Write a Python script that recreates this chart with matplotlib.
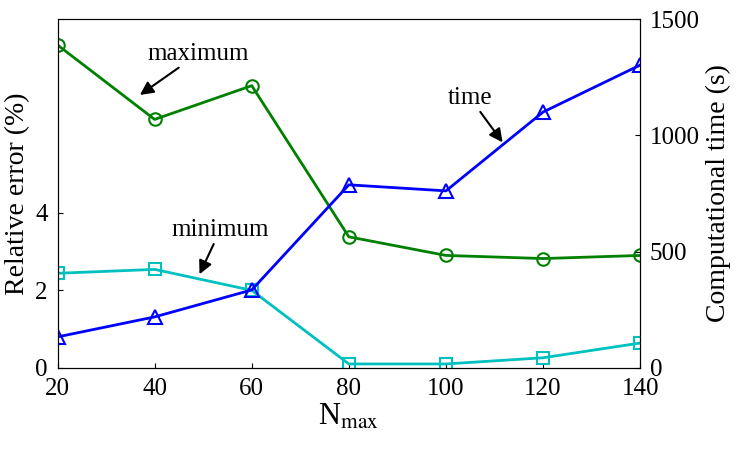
import matplotlib
matplotlib.use("Agg")
import matplotlib.pyplot as plt

plt.rcParams['font.family'] = ['Liberation Serif', 'DejaVu Serif']
plt.rcParams['mathtext.fontset'] = 'stix'

n_max = [20, 40, 60, 80, 100, 120, 140]
err_max = [8.33, 6.41, 7.28, 3.38, 2.90, 2.82, 2.90]
err_min = [2.44, 2.54, 2.00, 0.10, 0.10, 0.26, 0.64]
comp_time = [133, 219, 335, 787, 761, 1100, 1302]

fig, ax = plt.subplots(figsize=(7.47, 4.53), dpi=100)
fig.subplots_adjust(left=0.077, right=0.857, top=0.958, bottom=0.188)

ax.plot(n_max, err_max, color='green', lw=2, marker='o', ms=9, mfc='none', mew=1.5)
ax.plot(n_max, err_min, color='#00c0c0', lw=2, marker='s', ms=9, mfc='none', mew=1.5)
ax.set_xlim(20, 140)
ax.set_ylim(0, 9)
ax.set_yticks([0, 2, 4])
ax.set_xticks(n_max)
ax.set_xlabel(r'N$_{\rm max}$', fontsize=22, labelpad=2)
ax.set_ylabel('Relative error (%)', fontsize=20)
ax.tick_params(labelsize=18, direction='in')
ax.tick_params(axis='x', pad=7)
ax.tick_params(axis='y', pad=7)

ax2 = ax.twinx()
ax2.plot(n_max, comp_time, color='blue', lw=2, marker='^', ms=10, mfc='none', mew=1.5)
ax2.set_ylim(0, 1500)
ax2.set_yticks([0, 500, 1000, 1500])
ax2.set_ylabel('Computational time (s)', fontsize=20)
ax2.tick_params(labelsize=18, direction='in', pad=7)

arrow = dict(arrowstyle='-|>', color='black', lw=1.5, mutation_scale=20, shrinkA=0)
ax.annotate('maximum', xy=(36.5, 7.0), xytext=(49, 8.1), fontsize=18, ha='center',
            va='center', arrowprops=arrow)
ax.annotate('minimum', xy=(49, 2.35), xytext=(53.5, 3.55), fontsize=18, ha='center',
            va='center', arrowprops=arrow)
ax2.annotate('time', xy=(112, 960), xytext=(105, 1160), fontsize=18, ha='center',
             va='center', arrowprops=arrow)

fig.savefig('out.png', dpi=100)
